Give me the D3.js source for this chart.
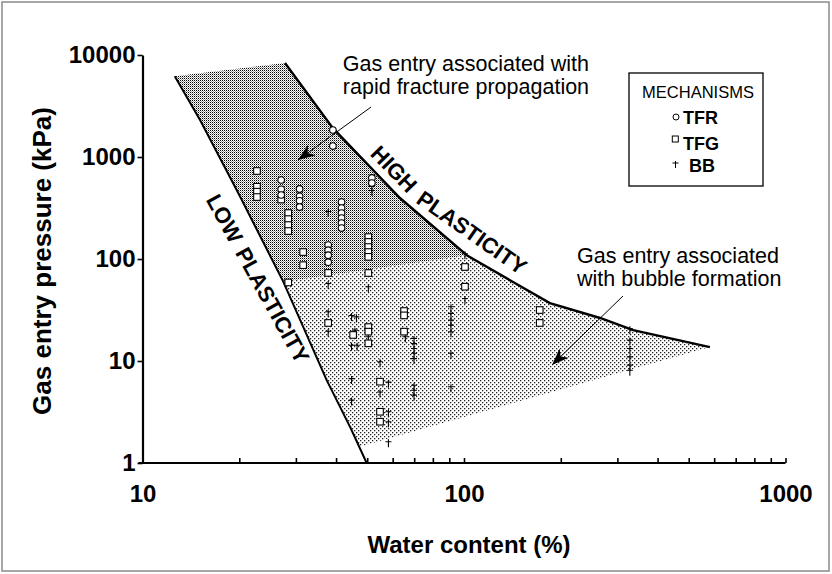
<!DOCTYPE html>
<html><head><meta charset="utf-8">
<script src="https://cdn.jsdelivr.net/npm/d3@7"></script>
<style>
html,body{margin:0;padding:0;background:#fff;}
svg text{font-family:"Liberation Sans",Arial,Helvetica,sans-serif;fill:#000;}
</style></head><body>
<svg id="chart" width="832" height="574"></svg>
<script>
// ---------- data ----------
const xTickValues = [10,20,30,40,50,60,70,80,90,100,200,300,400,500,600,700,800,900,1000];
const xTickLabels = [10,100,1000];
const yTickValues = [1,10,100,1000,10000];

// boundary curves (water content %, pressure kPa)
const lowPlasticity  = [[12.6,6200],[15.1,2300],[20,424],[27.4,60],[37.4,6.5],[44.4,2.2],[49.8,1]];
const highPlasticity = [[27.75,8350],[39.1,1920],[63.2,396],[102,109],[139,62],[185,37],[265,26.4],[336,20.1],[582,13.7]];
const bubbleZoneBottom = [[47.3,1.44],[582,13.7]];

// TFR – circles
const tfrPoints = [[39.1,1840],[39.1,1280],[27,595],[27,482],[27,424],
  [30.8,486],[30.8,412],[30.8,372],[30.8,323],
  [41.6,362],[41.6,316],[41.6,282],[41.6,252],[41.6,225],[41.6,201],
  [51.7,623],[51.7,556],[37.8,137],[37.8,122],[37.8,109],[37.8,93]];
// TFG – squares
const tfgPoints = [[22.7,729],[22.7,511],[22.7,457],[22.7,405],[27,383],
  [28.4,282],[28.4,246],[28.4,215],[28.4,188],[28.4,58.9],
  [31.6,117],[31.6,87],[37.8,73],
  [50.4,164],[50.4,147],[50.4,131],[50.4,117],[50.4,105],[50.4,72.9],
  [100.7,83.5],[100.7,53.5],[172,31.6],[172,23.6],
  [37.8,23.6],[45.2,18],[50.4,21.5],[50.4,19.4],[50.4,14.9],
  [65.1,30.9],[65.1,28],[65.1,19.4],[54.8,6.27],[54.8,3.18],[54.8,2.54]];
// BB – ticks
const bbPoints = [[37.8,282],[51.7,497],[51.7,454],[37.8,55.6],[50.4,51.6],
  [37.8,29.4],[37.8,18.9],[44.7,27],[46.3,26.2],[45.8,19.4],[44.7,13.8],[46.5,13.8],
  [50.4,16.7],[65.7,16.7],[69.9,16.1],[69.9,14.3],[69.9,12.8],[69.9,11.5],[69.9,10.2],
  [54.8,9.5],[58.2,6.0],[54.8,4.8],[44.7,6.5],[44.7,4.0],
  [58.2,3.07],[58.2,2.45],[58.2,1.56],[69.9,5.6],[69.9,5.0],[69.9,4.47],
  [100.7,109],[100.7,39.6],
  [91.1,32.9],[91.1,28.2],[91.1,24.3],[91.1,21.7],[91.1,18.7],[91.1,11.5],[91.1,5.4],
  [328,20],[328,15.5],[328,12.8],[328,10.6],[328,8.8],[328,7.85]];

// annotations (anchored in data space)
const noteFracture = {lines:["Gas entry associated with","rapid fracture propagation"], at:[42.0,6970]};
const noteBubble   = {lines:["Gas entry associated","with bubble formation"], at:[224.7,91.4]};
const arrowFracture = [[51.4,3090],[30.46,934]];
const arrowBubble   = [[312.3,43.4],[187.8,9.14]];
const lowLabel  = {text:"LOW PLASTICITY", at:[15.69,380], angle:61};
const highLabel1 = {text:"HIGH", at:[50.77,1053], angle:46};
const highLabel2 = {text:"PLASTICITY", at:[70.4,361], angle:35};
const legendItems = ["TFR","TFG","BB"];

// ---------- drawing ----------
const svg = d3.select("#chart");
const x = d3.scaleLog().domain([10,1000]).range([142.5,785.5]);
const y = d3.scaleLog().domain([1,10000]).range([463,55]);
const px = d => x(d[0]), py = d => y(d[1]);

const defs = svg.append("defs");
const pd = defs.append("pattern").attr("id","dense").attr("width",2).attr("height",2).attr("patternUnits","userSpaceOnUse");
pd.append("rect").attr("width",2).attr("height",2).attr("fill","#fff");
pd.append("rect").attr("width",1).attr("height",1).attr("fill","#000");
pd.append("rect").attr("x",1).attr("y",1).attr("width",1).attr("height",1).attr("fill","#9a9a9a");
const pl = defs.append("pattern").attr("id","sparse").attr("width",4).attr("height",4).attr("patternUnits","userSpaceOnUse");
pl.append("rect").attr("width",4).attr("height",4).attr("fill","#fff");
pl.append("rect").attr("width",1.3).attr("height",1.3).attr("fill","#222");
pl.append("rect").attr("x",2).attr("y",2).attr("width",1.3).attr("height",1.3).attr("fill","#222");

const mk = defs.append("marker").attr("id","ah").attr("markerUnits","userSpaceOnUse")
  .attr("viewBox","-20 -8 22 16").attr("refX",0).attr("refY",0)
  .attr("markerWidth",22).attr("markerHeight",16).attr("orient","auto");
mk.append("path").attr("d","M0,0 L-17,-6.5 L-12,0 L-17,6.5 Z").attr("fill","#000");

// outer frame
svg.append("rect").attr("x",2).attr("y",2).attr("width",827).attr("height",569)
  .attr("fill","#fff").attr("stroke","#8a8a8a").attr("stroke-width",1.5);

const line = d3.line().x(px).y(py);

// regions
const lightPoly = lowPlasticity.slice(3,6).concat(bubbleZoneBottom, highPlasticity.slice(3).reverse());
svg.append("path").attr("d", line(lightPoly)+"Z").attr("fill","url(#sparse)");
const darkPoly = highPlasticity.slice(0,4).concat(lowPlasticity.slice(0,4).reverse());
svg.append("path").attr("d", line(darkPoly)+"Z").attr("fill","url(#dense)");

// boundary lines
svg.append("path").attr("d", line(lowPlasticity)).attr("fill","none").attr("stroke","#000").attr("stroke-width",2);
svg.append("path").attr("d", line(highPlasticity)).attr("fill","none").attr("stroke","#000").attr("stroke-width",2.4);

// axes
const yAxis = svg.append("g").attr("transform",`translate(${x(10)},0)`)
  .call(d3.axisLeft(y).tickValues(yTickValues).tickSizeInner(5).tickSizeOuter(0).tickPadding(2).tickFormat(d3.format("d")));
const xAxis = svg.append("g").attr("transform",`translate(0,${y(1)})`)
  .call(d3.axisBottom(x).tickValues(xTickValues).tickSizeInner(-5).tickSizeOuter(0).tickPadding(22)
    .tickFormat(d => xTickLabels.includes(d) ? d3.format("d")(d) : ""));
[xAxis,yAxis].forEach(g=>{
  g.select(".domain").attr("stroke","#000").attr("stroke-width",2.2);
  g.selectAll(".tick line").attr("stroke","#000").attr("stroke-width",1.6);
  g.selectAll(".tick text").attr("font-size",24).attr("font-weight","bold").attr("font-family","Liberation Sans, Arial, sans-serif").attr("fill","#000");
});
xAxis.select(".domain").attr("d",`M${x(10)-4},0H${x(1000)}`);

// axis titles
svg.append("text").attr("transform",`translate(51,${(y(1)+y(10000))/2+2}) rotate(-90)`)
  .attr("text-anchor","middle").attr("font-size",26).attr("font-weight","bold").text("Gas entry pressure (kPa)");
svg.append("text").attr("x",x(100)+5).attr("y",553).attr("text-anchor","middle")
  .attr("font-size",24).attr("font-weight","bold").text("Water content (%)");

// points
svg.append("g").selectAll("path").data(bbPoints).join("path")
  .attr("transform",d=>`translate(${px(d)},${py(d)})`)
  .attr("d","M0,-4V4M-3,-1.5H3").attr("stroke","#000").attr("stroke-width",1.1).attr("fill","none");
svg.append("g").selectAll("rect").data(tfgPoints).join("rect")
  .attr("x",d=>px(d)-3.3).attr("y",d=>py(d)-3.3).attr("width",6.6).attr("height",6.6)
  .attr("fill","#fff").attr("stroke","#000").attr("stroke-width",1.1);
svg.append("g").selectAll("circle").data(tfrPoints).join("circle")
  .attr("cx",px).attr("cy",py).attr("r",3.3)
  .attr("fill","#fff").attr("stroke","#000").attr("stroke-width",1.1);

// region labels
[lowLabel,highLabel1,highLabel2].forEach(l=>{
  svg.append("text").attr("transform",`translate(${px(l.at)},${py(l.at)}) rotate(${l.angle})`)
    .attr("font-size",22).attr("font-weight","bold").attr("word-spacing",3).text(l.text);
});

// notes and arrows
[noteFracture,noteBubble].forEach(n=>{
  const t = svg.append("text").attr("x",px(n.at)).attr("y",py(n.at)).attr("font-size",21.5).attr("fill","#111");
  n.lines.forEach((s,i)=>t.append("tspan").attr("x",px(n.at)).attr("dy",i?23:0).text(s));
});
[arrowFracture,arrowBubble].forEach(a=>{
  svg.append("path").attr("d",line(a)).attr("stroke","#000").attr("stroke-width",1).attr("fill","none").attr("marker-end","url(#ah)");
});

// legend
const lg = svg.append("g");
lg.append("rect").attr("x",629).attr("y",73).attr("width",134).attr("height",113)
  .attr("fill","#fff").attr("stroke","#000").attr("stroke-width",1.3);
lg.append("text").attr("x",698).attr("y",97.5).attr("text-anchor","middle").attr("font-size",16.5).text("MECHANISMS");
const rows = [124,149.5,171.5];
lg.append("circle").attr("cx",676).attr("cy",117).attr("r",3).attr("fill","#fff").attr("stroke","#000").attr("stroke-width",1);
lg.append("rect").attr("x",672.3).attr("y",136).attr("width",6).attr("height",6).attr("fill","#fff").attr("stroke","#000").attr("stroke-width",1);
lg.append("path").attr("transform","translate(675.5,164.5)").attr("d","M0,-3.5V3.5M-3,-1.5H3").attr("stroke","#000").attr("stroke-width",1);
legendItems.forEach((s,i)=>{
  lg.append("text").attr("x",i===2?689:683).attr("y",rows[i]).attr("font-size",18).attr("font-weight","bold").text(s);
});
</script>
</body></html>
